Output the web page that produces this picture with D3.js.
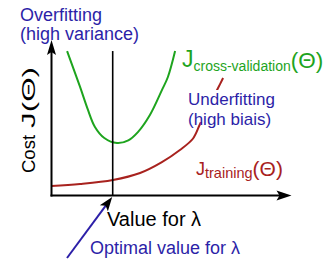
<!DOCTYPE html>
<html>
<head>
<meta charset="utf-8">
<script src="https://cdn.jsdelivr.net/npm/d3@7"></script>
<style>
	html, body { margin: 0; padding: 0; background: #fff; }
	#chart { width: 324px; height: 265px; }
	text { font-family: "Liberation Sans", Arial, sans-serif; }
</style>
</head>
<body>
<div id="chart"></div>
<script>
//bias / variance sketch: cost against lambda

//training error curve (lambda, cost)
var trainLambda = [0, 11.9, 25.6, 36.9, 46.0, 53.5, 58.9, 61.9, 66.0, 69.4, 71.5];
var trainCost = [6.1, 7.4, 10.0, 14.5, 21.5, 29.3, 36.5, 46.0, 58.8, 69.1, 75.6];

//cross-validation error curve (lambda, cost)
var cvLambda = [6.5, 11.9, 15.2, 18.1, 22.0, 27.3, 32.0, 36.0, 41.0, 46.0, 48.5, 51.5];
var cvCost = [92.9, 69.8, 55.0, 44.1, 37.0, 33.8, 35.5, 40.8, 51.8, 67.8, 76.2, 92.9];

//the chosen lambda and the top of its marker line
var optimalLambda = [25.5];
var optimalTop = [92.9];

//texts
var yLabel = ["Cost ", "J(\u0398)"];
var xLabel = ["Value for \u03bb"];
var optimalLabel = ["Optimal value for \u03bb"];
var overLabel = ["Overfitting", "(high variance)"];
var underLabel = ["Underfitting", "(high biais)"];
var cvLabel = ["J", "cross-validation", "(\u0398)"];
var trainLabel = ["J", "training", "(\u0398)"];

var colors = { blue: "#2c1fa8", green: "#1ea41e", red: "#a8221e", axis: "#000" };

var costChart = function(opts){
	this.element = opts.element;
	this.draw(this.element);
}

costChart.prototype.draw = function(chartElement){
	this.width = 324;
	this.height = 265;

	chartElement.innerHTML = '';

	this.svg = d3.select(chartElement).append('svg')
		.attr('width', this.width)
		.attr('height', this.height);

	//scales in arbitrary units, 0..100 on both axes
	this.x = d3.scaleLinear().domain([0, 100]).range([51.5, 291.5]);
	this.y = d3.scaleLinear().domain([0, 100]).range([195.5, 40]);

	this.addCurves();
	this.addAxes();
	this.addLabels();
	this.addPointer();
}

costChart.prototype.addAxes = function(){
	var x = this.x, y = this.y;
	var g = this.svg.append('g');

	//y axis with arrow
	g.append('line')
		.attr('x1', x(0)).attr('x2', x(0))
		.attr('y1', y(0) + 1).attr('y2', y(100) + 6)
		.attr('stroke', colors.axis).attr('stroke-width', 2);
	g.append('path')
		.attr('d', 'M' + x(0) + ',' + y(100) + 'l-4.5,15l4.5,-3l4.5,3z')
		.attr('fill', colors.axis);

	//x axis with arrow
	g.append('line')
		.attr('x1', x(0) - 1).attr('x2', x(100) - 6)
		.attr('y1', y(0)).attr('y2', y(0))
		.attr('stroke', colors.axis).attr('stroke-width', 2);
	g.append('path')
		.attr('d', 'M' + x(100) + ',' + y(0) + 'l-15,-5l3,5l-3,5z')
		.attr('fill', colors.axis);

	//optimal lambda marker
	g.append('line')
		.attr('x1', x(optimalLambda[0])).attr('x2', x(optimalLambda[0]))
		.attr('y1', y(optimalTop[0])).attr('y2', y(0))
		.attr('stroke', colors.axis).attr('stroke-width', 1.6);
}

costChart.prototype.addCurves = function(){
	var that = this;
	var line = d3.line()
		.x(function(d){ return that.x(d[0]); })
		.y(function(d){ return that.y(d[1]); })
		.curve(d3.curveCatmullRom.alpha(0.5));

	var cv = d3.zip(cvLambda, cvCost);
	var tr = d3.zip(trainLambda, trainCost);

	this.svg.append('path')
		.datum(tr)
		.attr('d', line)
		.attr('fill', 'none')
		.attr('stroke', colors.red)
		.attr('stroke-width', 2);

	this.svg.append('path')
		.datum(cv)
		.attr('d', line)
		.attr('fill', 'none')
		.attr('stroke', colors.green)
		.attr('stroke-width', 2);
}

costChart.prototype.addLabels = function(){
	var svg = this.svg;

	//overfitting note
	svg.append('text').attr('x', 20).attr('y', 21)
		.attr('font-size', 18).attr('fill', colors.blue).text(overLabel[0]);
	svg.append('text').attr('x', 20).attr('y', 40)
		.attr('font-size', 18).attr('fill', colors.blue).text(overLabel[1]);

	//underfitting note, white box hides the training curve behind it
	svg.append('rect')
		.attr('x', 186).attr('y', 90).attr('width', 100).attr('height', 32)
		.attr('fill', '#fff');
	svg.append('text').attr('x', 188).attr('y', 105)
		.attr('font-size', 17).attr('fill', colors.blue).text(underLabel[0]);
	svg.append('text').attr('x', 188).attr('y', 124.5)
		.attr('font-size', 17).attr('fill', colors.blue).text(underLabel[1]);

	//cross-validation name
	var cv = svg.append('text').attr('x', 182).attr('y', 67).attr('fill', colors.green);
	cv.append('tspan').attr('font-size', 23).text(cvLabel[0]);
	cv.append('tspan').attr('font-size', 14).attr('dy', 4).text(cvLabel[1]);
	cv.append('tspan').attr('font-size', 22.5).attr('dy', -3).text(cvLabel[2]);

	//training name
	var tr = svg.append('text').attr('x', 196).attr('y', 175).attr('fill', colors.red);
	tr.append('tspan').attr('font-size', 18).text(trainLabel[0]);
	tr.append('tspan').attr('font-size', 14.5).attr('dy', 3).text(trainLabel[1]);
	tr.append('tspan').attr('font-size', 21).attr('dy', -2).text(trainLabel[2]);

	//y axis title, the J part is drawn wider in the original
	svg.append('text')
		.attr('transform', 'translate(34.5,173) rotate(-90)')
		.attr('font-size', 18.5).text(yLabel[0]);
	svg.append('text')
		.attr('transform', 'translate(34.5,128) rotate(-90)')
		.attr('font-size', 19)
		.attr('textLength', 61).attr('lengthAdjust', 'spacingAndGlyphs')
		.text(yLabel[1]);

	//x axis title
	svg.append('text').attr('x', 107).attr('y', 226)
		.attr('font-size', 20).text(xLabel[0]);

	svg.append('text').attr('x', 90).attr('y', 254)
		.attr('font-size', 18).attr('fill', colors.blue).text(optimalLabel[0]);
}

costChart.prototype.addPointer = function(){
	//blue arrow pointing at the optimal lambda on the x axis
	var tx = this.x(optimalLambda[0]) - 0.5, ty = this.y(0) + 1.5;
	var sx = 67, sy = 258;
	var ang = Math.atan2(ty - sy, tx - sx) * 180 / Math.PI;
	var len = Math.sqrt((tx - sx) * (tx - sx) + (ty - sy) * (ty - sy));

	var g = this.svg.append('g')
		.attr('transform', 'translate(' + sx + ',' + sy + ') rotate(' + ang + ')');
	g.append('line')
		.attr('x1', 0).attr('x2', len - 8)
		.attr('y1', 0).attr('y2', 0)
		.attr('stroke', colors.blue).attr('stroke-width', 2);
	g.append('path')
		.attr('d', 'M' + len + ',0l-14,-5l3,5l-3,5z')
		.attr('fill', '#000');
}

new costChart({ element: document.getElementById('chart') });
</script>
</body>
</html>
